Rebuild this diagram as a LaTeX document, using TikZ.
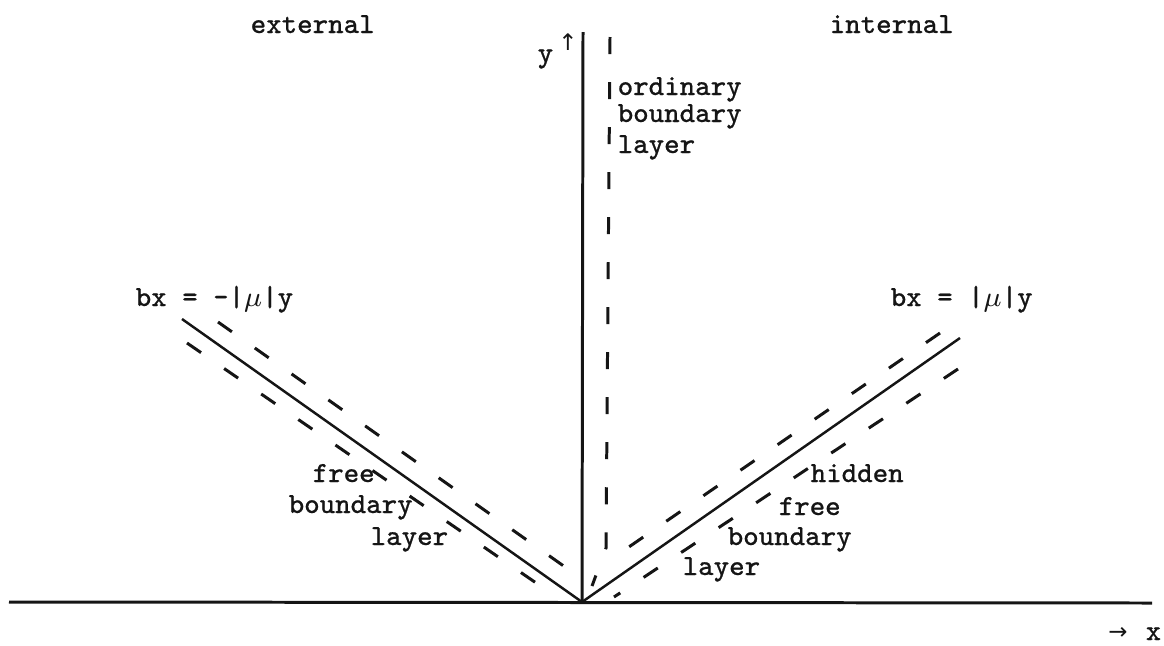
\documentclass[tikz,border=0pt]{standalone}
\usepackage{fontspec}
\setmonofont[FakeBold=0.6]{Latin Modern Mono}
\newfontfamily\arrowfont{DejaVu Sans}
\usetikzlibrary{calc}
\definecolor{ink}{HTML}{151515}
\tikzset{line cap=round,
  axisline/.style={draw=ink,line width=.85pt},
  wedge/.style={draw=ink,line width=.7pt},
  blayer/.style={draw=ink,line width=.85pt,dash pattern=on .17cm off .28cm},
  lbl/.style={text=ink,font=\ttfamily\fontsize{8.3}{9}\selectfont,inner sep=0pt,anchor=base west},
  arr/.style={text=ink,font=\arrowfont\fontsize{6.5}{7}\selectfont,inner sep=0pt}}
\begin{document}
\begin{tikzpicture}[x=.01cm,y=-.01cm]
\useasboundingbox (0,0) rectangle (1164,645);
% axes
\coordinate (O) at (582,602);
\coordinate (xl) at (9,602);\coordinate (xr) at (1152,603);\coordinate (yt) at (583,32);
\draw[axisline] (xl)--(xr);\draw[axisline] (O)--(yt);
% lines bx = -|mu|y and bx = |mu|y
\coordinate (ml) at (182,319);\coordinate (mr) at (960,338);
\draw[wedge] (ml)--(O)--(mr);
% layers
\coordinate (lu0) at (218,322);\coordinate (lu1) at (575,574);
\coordinate (ll0) at (187,343);\coordinate (ll1) at (558,598);
\coordinate (ru0) at (940,333);\coordinate (ru1) at (623,551);
\coordinate (rl0) at (958,369);\coordinate (rl1) at (614,597);
\coordinate (v0) at (610,37);\coordinate (v1) at (606,548);\coordinate (v2) at (592,586);
\draw[blayer] (lu0)--(lu1);\draw[blayer] (ll0)--(ll1);
\draw[blayer] (ru0)--(ru1);\draw[blayer] (rl0)--(rl1);
\draw[blayer] (v0)--(v1)--(v2);
% labels
\node[lbl] (ext) at (250,33) {external};\node[lbl] (int) at (829,33) {internal};
\node[lbl] (ylab) at (537,62) {y};\node[arr] (yarr) at (568,42) {↑};
\node[lbl] (xlab) at (1145,640) {x};\node[arr] (xarr) at (1118,633) {→};
\node[lbl] (eql) at (135,306) {bx = -|$\mu$|y};\node[lbl] (eqr) at (890,306) {bx = |$\mu$|y};
\foreach \t/\px/\py [count=\i] in {ordinary/617/95,boundary/617/122,layer/617/153,
  free/312/482,boundary/288/513,layer/370/545,
  hidden/810/482,free/778/515,boundary/727/545,layer/682/575}
  {\node[lbl] (txt\i) at (\px,\py) {\t};}
\end{tikzpicture}
\end{document}
